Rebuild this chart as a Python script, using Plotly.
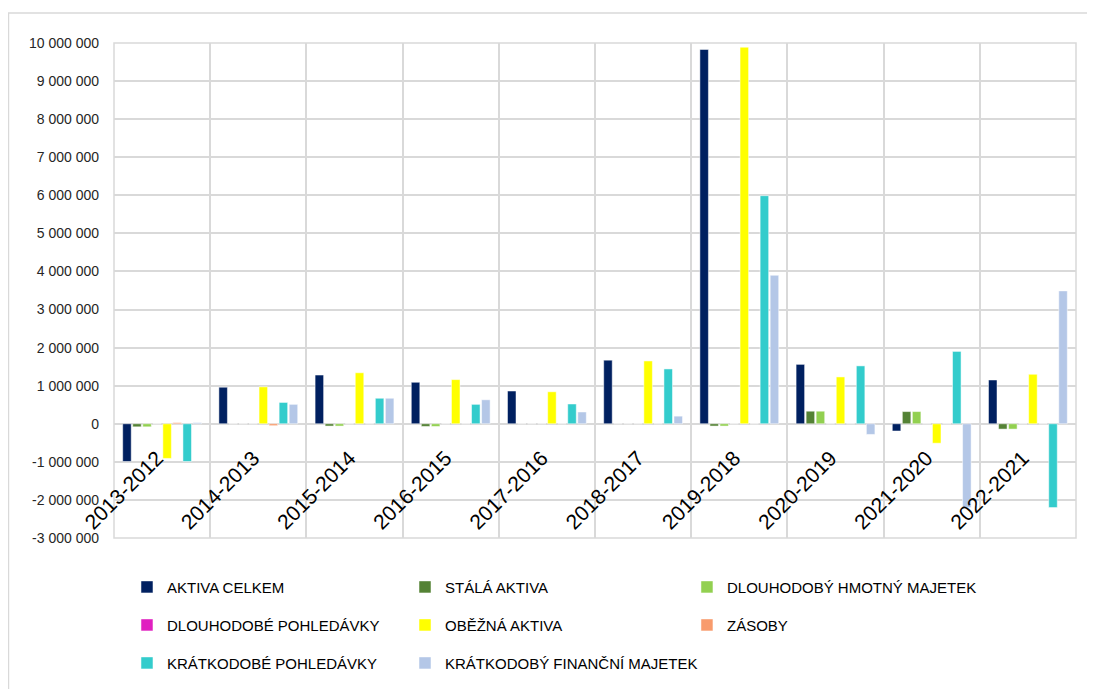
import plotly.graph_objects as go

categories = ["2013-2012", "2014-2013", "2015-2014", "2016-2015", "2017-2016",
              "2018-2017", "2019-2018", "2020-2019", "2021-2020", "2022-2021"]

aktiva_celkem = [-990000, 960000, 1280000, 1090000, 860000, 1670000, 9830000, 1560000, -190000, 1150000]
stala_aktiva = [-80000, 0, -60000, -70000, 0, 0, -60000, 330000, 320000, -140000]
dlouhodoby_hmotny_majetek = [-80000, 0, -60000, -70000, 0, 0, -60000, 330000, 320000, -140000]
dlouhodobe_pohledavky = [0, 0, 0, 0, 0, 0, 0, 0, 0, 0]
obezna_aktiva = [-910000, 970000, 1340000, 1160000, 840000, 1650000, 9890000, 1230000, -510000, 1300000]
zasoby = [30000, -50000, 0, 0, 0, 0, 0, 0, 0, 0]
kratkodobe_pohledavky = [-990000, 560000, 670000, 510000, 520000, 1440000, 5990000, 1520000, 1900000, -2200000]
kratkodoby_financni_majetek = [30000, 510000, 670000, 630000, 310000, 200000, 3900000, -280000, -2200000, 3490000]

series_names = ["AKTIVA CELKEM", "STÁLÁ AKTIVA", "DLOUHODOBÝ HMOTNÝ MAJETEK",
                "DLOUHODOBÉ POHLEDÁVKY", "OBĚŽNÁ AKTIVA", "ZÁSOBY",
                "KRÁTKODOBÉ POHLEDÁVKY", "KRÁTKODOBÝ FINANČNÍ MAJETEK"]
series_values = [aktiva_celkem, stala_aktiva, dlouhodoby_hmotny_majetek,
                 dlouhodobe_pohledavky, obezna_aktiva, zasoby,
                 kratkodobe_pohledavky, kratkodoby_financni_majetek]
series_colors = ["#002060", "#548235", "#92D050", "#E020C0",
                 "#FFFF00", "#F89B6C", "#33CCCC", "#B4C7E7"]
# legend column of each series (3 columns, filled row by row)
legend_columns = ["legend", "legend2", "legend3", "legend", "legend2", "legend3", "legend", "legend2"]

y_min, y_max, y_step = -3000000, 10000000, 1000000
y_ticks = list(range(y_min, y_max + 1, y_step))
y_ticktext = [f"{v:,}".replace(",", " ") for v in y_ticks]

FONT = "Liberation Sans, Arial, sans-serif"

fig = go.Figure()
for i, (name, vals, col, lg) in enumerate(zip(series_names, series_values, series_colors, legend_columns)):
    fig.add_trace(go.Bar(
        x=categories, y=vals, name=name,
        marker=dict(color=col, line=dict(color="white", width=0.5)),
        legend=lg, legendgroup=f"g{i}",
    ))

legend_common = dict(
    orientation="v", xanchor="left", yanchor="top", y=-0.066,
    font=dict(family=FONT, size=15, color="#000000"),
    tracegroupgap=15.5,
    bgcolor="rgba(0,0,0,0)", borderwidth=0,
)

fig.update_layout(
    width=1095, height=689,
    margin=dict(l=106, r=27, t=35, b=158.5),
    paper_bgcolor="white", plot_bgcolor="white",
    barmode="group", bargap=0.165, bargroupgap=0.15,
    font=dict(family=FONT, color="#000000"),
    legend=dict(**legend_common, x=0.0135),
    legend2=dict(**legend_common, x=0.3025),
    legend3=dict(**legend_common, x=0.5956),
    xaxis=dict(
        type="category", tickson="boundaries",
        showgrid=True, gridcolor="#d9d9d9", gridwidth=1.5,
        showline=False, ticks="", zeroline=False,
        anchor="free", position=(0 - y_min) / (y_max - y_min),
        tickangle=-45, tickfont=dict(family=FONT, size=21, color="#000000"),
        ticklabelstandoff=17, ticklabelshift=-5,
    ),
    yaxis=dict(
        range=[y_min, y_max], tickmode="array", tickvals=y_ticks, ticktext=y_ticktext,
        showgrid=True, gridcolor="#d9d9d9", gridwidth=1.5,
        zeroline=True, zerolinecolor="#d9d9d9", zerolinewidth=1.5,
        showline=False, ticks="", ticklabelstandoff=14,
        tickfont=dict(family=FONT, size=14, color="#262626"),
    ),
    shapes=[
        dict(type="rect", xref="paper", yref="paper", x0=0, x1=1, y0=0, y1=1,
             line=dict(color="#d9d9d9", width=1.5), layer="below"),
        dict(type="rect", xref="paper", yref="paper", x0=-0.1097, x1=1.0172,
             y0=-0.35, y1=1.0605, line=dict(color="#d9d9d9", width=1.5), layer="below"),
    ],
)

fig.write_html("out.html")
